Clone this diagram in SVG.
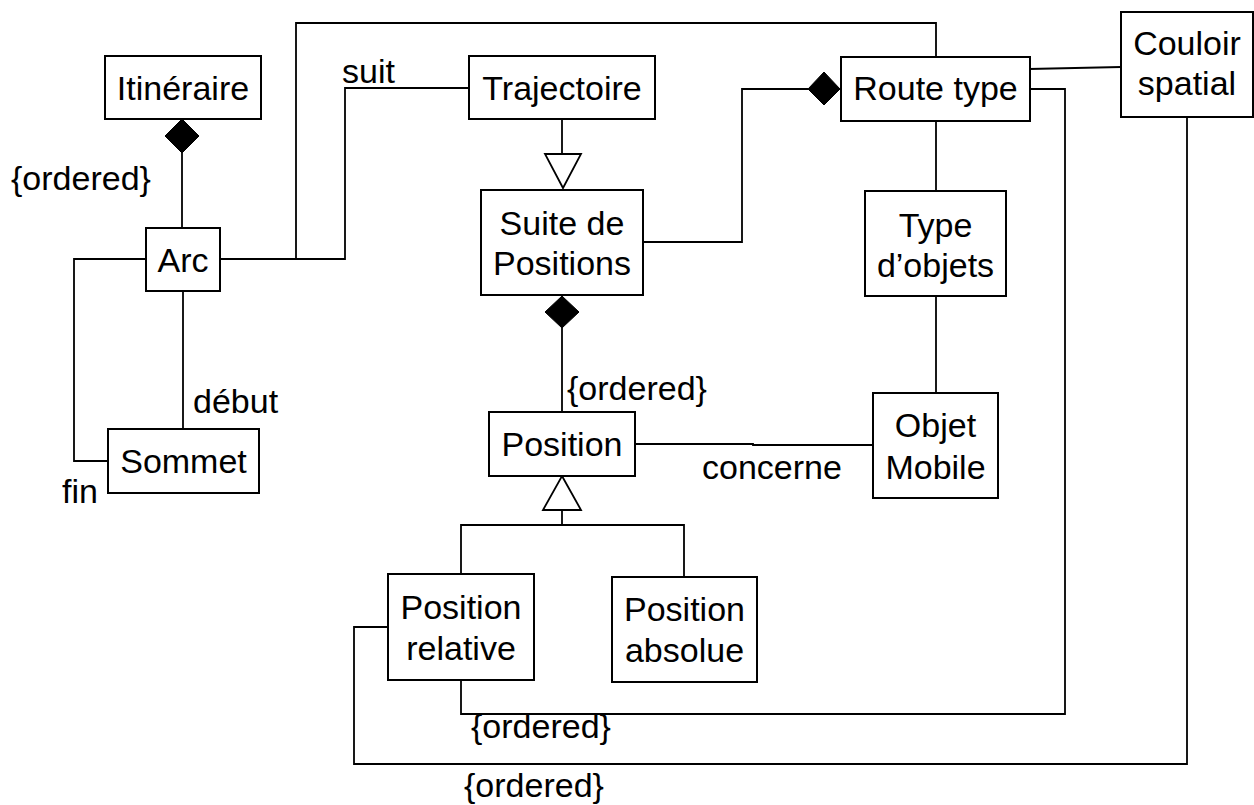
<svg xmlns="http://www.w3.org/2000/svg" width="1254" height="805" viewBox="0 0 1254 805">
<style>
.box{fill:#fff;stroke:#000;stroke-width:2}
.ln{fill:none;stroke:#000;stroke-width:1.8}
.dia{fill:#000;stroke:#000;stroke-width:1}
.tri{fill:#fff;stroke:#000;stroke-width:1.8}
text{font-family:"Liberation Sans",Arial,sans-serif;font-size:34px;fill:#000}
.c{text-anchor:middle}
</style>
<rect width="1254" height="805" fill="#fff"/>
<g id="connectors">
<polyline class="ln" points="182,153 182,228"/>
<polyline class="ln" points="220,259 345,259 345,88 469,88"/>
<polyline class="ln" points="296,259 296,23 936,23 936,57"/>
<polyline class="ln" points="562,119 562,154"/>
<polyline class="ln" points="643,242 742,242 742,89 808,89"/>
<polyline class="ln" points="1029,69 1121,67"/>
<polyline class="ln" points="1030,89 1065,89 1065,714 461,714 461,680"/>
<polyline class="ln" points="1187,117 1187,764 354,764 354,627 388,627"/>
<polyline class="ln" points="936,121 936,191"/>
<polyline class="ln" points="936,296 936,393"/>
<polyline class="ln" points="635,444 753,444 753,445 873,445"/>
<polyline class="ln" points="562,328 562,412"/>
<polyline class="ln" points="562,510 562,525"/>
<polyline class="ln" points="461,574 461,525 684,525 684,577"/>
<polyline class="ln" points="183,291 183,429"/>
<polyline class="ln" points="146,259 74,259 74,461 108,461"/>
<polygon class="dia" points="182,119 199,136 182,153 165,136"/>
<polygon class="dia" points="808,89 824,72 840,89 824,105"/>
<polygon class="dia" points="562,296 579,312 562,328 545,312"/>
<polygon class="tri" points="545,154 581,154 563,188"/>
<polygon class="tri" points="562,476 581,510 543,510"/>
<text x="11" y="190">{ordered}</text>
<text x="342" y="83">suit</text>
<text x="567" y="400">{ordered}</text>
<text x="702" y="479">concerne</text>
<text x="193" y="413">début</text>
<text x="62" y="503">fin</text>
<text x="471" y="738">{ordered}</text>
<text x="464" y="797">{ordered}</text>
</g>
<g id="itineraire"><rect class="box" x="105" y="56" width="156" height="63"/><text class="c" x="183" y="100">Itinéraire</text></g>
<g id="trajectoire"><rect class="box" x="469" y="56" width="186" height="63"/><text class="c" x="562" y="100">Trajectoire</text></g>
<g id="route-type"><rect class="box" x="841" y="57" width="189" height="64"/><text class="c" x="935.5" y="100">Route type</text></g>
<g id="couloir-spatial"><rect class="box" x="1121" y="12" width="132" height="105"/><text class="c" x="1187" y="55">Couloir</text><text class="c" x="1187" y="95">spatial</text></g>
<g id="arc"><rect class="box" x="146" y="228" width="74" height="63"/><text class="c" x="183" y="272">Arc</text></g>
<g id="suite-de-positions"><rect class="box" x="481" y="190" width="162" height="105"/><text class="c" x="562" y="235">Suite de</text><text class="c" x="562" y="275">Positions</text></g>
<g id="type-objets"><rect class="box" x="865" y="191" width="141" height="105"/><text class="c" x="935.5" y="237">Type</text><text class="c" x="935.5" y="277">d’objets</text></g>
<g id="sommet"><rect class="box" x="108" y="429" width="151" height="64"/><text class="c" x="183.5" y="473">Sommet</text></g>
<g id="position"><rect class="box" x="489" y="412" width="146" height="64"/><text class="c" x="562" y="456">Position</text></g>
<g id="objet-mobile"><rect class="box" x="873" y="393" width="125" height="105"/><text class="c" x="935.5" y="437">Objet</text><text class="c" x="935.5" y="479">Mobile</text></g>
<g id="position-relative"><rect class="box" x="388" y="574" width="146" height="106"/><text class="c" x="461" y="619">Position</text><text class="c" x="461" y="660">relative</text></g>
<g id="position-absolue"><rect class="box" x="612" y="577" width="145" height="105"/><text class="c" x="684.5" y="621">Position</text><text class="c" x="684.5" y="662">absolue</text></g>
</svg>
